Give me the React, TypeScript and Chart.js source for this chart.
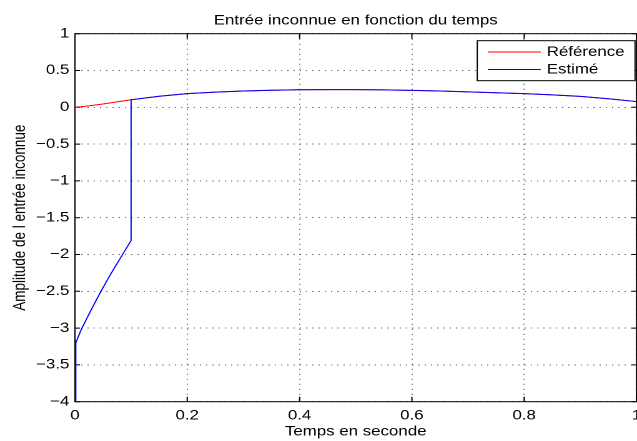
import React, { useEffect, useRef } from 'react';
import { Chart, registerables } from 'chart.js';

Chart.register(...registerables);

// ---- text ----
const titleText = 'Entrée inconnue en fonction du temps';
const xTitle = 'Temps en seconde';
const yTitle = 'Amplitude de l entrée inconnue';
const seriesNames = ['Référence', 'Estimé'];
const seriesColors = ['#ff0000', '#0000ff'];

// ---- data ----
const refTimes = [0, 0.025, 0.05, 0.075, 0.1, 0.15, 0.2, 0.25, 0.3, 0.35, 0.4, 0.45, 0.5, 0.55, 0.6, 0.65, 0.7, 0.75, 0.8, 0.85, 0.9, 0.95, 1.0];
const refValues = [0, 0.02, 0.045, 0.073, 0.102, 0.15, 0.185, 0.207, 0.222, 0.232, 0.238, 0.24, 0.24, 0.237, 0.23, 0.221, 0.21, 0.198, 0.185, 0.168, 0.148, 0.116, 0.078];

const estTimes = [0.0015, 0.0015, 0.01, 0.02, 0.03, 0.04, 0.05, 0.06, 0.07, 0.08, 0.09, 0.1, 0.1, 0.15, 0.2, 0.25, 0.3, 0.35, 0.4, 0.45, 0.5, 0.55, 0.6, 0.65, 0.7, 0.75, 0.8, 0.85, 0.9, 0.95, 1.0];
const estValues = [-8, -3.2, -3.04, -2.885, -2.735, -2.59, -2.45, -2.315, -2.185, -2.06, -1.935, -1.81, 0.102, 0.15, 0.185, 0.207, 0.222, 0.232, 0.238, 0.24, 0.24, 0.237, 0.23, 0.221, 0.21, 0.198, 0.185, 0.168, 0.148, 0.116, 0.078];

const xMin = 0;
const xMax = 1;
const xStep = 0.2;
const yMin = -4;
const yMax = 1;
const yStep = 0.5;

const FONT = '"Liberation Sans", Arial, Helvetica, sans-serif';
const FS = 13.5;

const fmt = (v: number) => String(Math.round(v * 10) / 10).replace('-', '\u2212');

const boxPlugin = {
  id: 'matlabBox',
  beforeDatasetsDraw(chart: any) {
    const { ctx, chartArea: a, scales } = chart;
    ctx.save();
    ctx.strokeStyle = '#000';
    ctx.lineWidth = 1;
    ctx.strokeRect(a.left, a.top, a.right - a.left, a.bottom - a.top);
    ctx.beginPath();
    scales.x.ticks.forEach((t: any) => {
      const px = scales.x.getPixelForValue(t.value);
      ctx.moveTo(px, a.bottom);
      ctx.lineTo(px, a.bottom - 5);
      ctx.moveTo(px, a.top);
      ctx.lineTo(px, a.top + 5);
    });
    scales.y.ticks.forEach((t: any) => {
      const py = scales.y.getPixelForValue(t.value);
      ctx.moveTo(a.left, py);
      ctx.lineTo(a.left + 4, py);
      ctx.moveTo(a.right, py);
      ctx.lineTo(a.right - 4, py);
    });
    ctx.stroke();
    ctx.restore();
  },
};

const legendPlugin = {
  id: 'matlabLegend',
  afterDraw(chart: any) {
    const { ctx } = chart;
    const left = 382.1;
    const top = 40.7;
    const right = 508.4;
    const bottom = 80.7;
    ctx.save();
    ctx.fillStyle = '#fff';
    ctx.fillRect(left, top, right - left, bottom - top);
    ctx.strokeStyle = '#000';
    ctx.lineWidth = 1;
    ctx.strokeRect(left, top, right - left, bottom - top);
    const rows = [52, 69.5];
    ctx.font = `${FS}px ${FONT}`;
    ctx.textBaseline = 'middle';
    ctx.textAlign = 'left';
    chart.data.datasets.forEach((ds: any, i: number) => {
      const y = rows[i];
      ctx.strokeStyle = ds.borderColor;
      ctx.beginPath();
      ctx.moveTo(390.5, y);
      ctx.lineTo(432.9, y);
      ctx.stroke();
      ctx.fillStyle = '#000';
      ctx.fillText(ds.label, 437.7, y + 0.5);
    });
    ctx.restore();
  },
};

export default function App() {
  const canvasRef = useRef<HTMLCanvasElement | null>(null);

  useEffect(() => {
    const canvas = canvasRef.current;
    if (!canvas) return;
    const refData = refTimes.map((t, i) => ({ x: t, y: refValues[i] }));
    const estData = estTimes.map((t, i) => ({ x: t, y: estValues[i] }));
    const chart = new Chart(canvas, {
      type: 'line',
      data: {
        datasets: [
          {
            label: seriesNames[0],
            data: refData,
            borderColor: seriesColors[0],
            backgroundColor: seriesColors[0],
            borderWidth: 1,
            pointRadius: 0,
            tension: 0,
            order: 2,
          },
          {
            label: seriesNames[1],
            data: estData,
            borderColor: seriesColors[1],
            backgroundColor: seriesColors[1],
            borderWidth: 1,
            pointRadius: 0,
            tension: 0,
            order: 1,
          },
        ],
      },
      options: {
        animation: false,
        responsive: false,
        maintainAspectRatio: false,
        devicePixelRatio: 2,
        layout: { padding: { left: 0, right: 0.4, top: 0, bottom: 0 } },
        plugins: {
          legend: { display: false },
          tooltip: { enabled: false },
          title: {
            display: true,
            text: titleText,
            color: '#000',
            fullSize: false,
            font: { family: FONT, size: FS, weight: 'normal', lineHeight: 1.2 },
            padding: { top: 12.5, bottom: 5 },
          },
        },
        scales: {
          x: {
            type: 'linear',
            min: xMin,
            max: xMax,
            afterFit: (s: any) => {
              s.height = 39.3;
              s.paddingLeft = 0;
              s.paddingRight = 0;
            },
            ticks: {
              stepSize: xStep,
              color: '#000',
              padding: 6,
              maxRotation: 0,
              autoSkip: false,
              font: { family: FONT, size: FS, lineHeight: 1.2 },
              callback: (v: any) => fmt(Number(v)),
            },
            grid: { color: 'rgba(0,0,0,0.6)', lineWidth: 1, drawTicks: false },
            border: { display: false, dash: [1, 4] },
            title: {
              display: true,
              text: xTitle,
              color: '#000',
              font: { family: FONT, size: FS, lineHeight: 1.2 },
              padding: { top: 0, bottom: 1.3 },
            },
          },
          y: {
            type: 'linear',
            min: yMin,
            max: yMax,
            afterFit: (s: any) => {
              s.width = 60;
            },
            ticks: {
              stepSize: yStep,
              color: '#000',
              padding: 4.5,
              autoSkip: false,
              font: { family: FONT, size: FS, lineHeight: 1.2 },
              callback: (v: any) => fmt(Number(v)),
            },
            grid: { color: 'rgba(0,0,0,0.6)', lineWidth: 1, drawTicks: false },
            border: { display: false, dash: [1, 4] },
            title: {
              display: true,
              text: yTitle,
              color: '#000',
              font: { family: FONT, size: FS, lineHeight: 1.2 },
              padding: { top: 8.4, bottom: 0 },
            },
          },
        },
      } as any,
      plugins: [boxPlugin, legendPlugin],
    });
    return () => {
      chart.destroy();
    };
  }, []);

  return (
    <div style={{ position: 'fixed', left: 0, top: 0, width: 637, height: 441, background: '#fff', overflow: 'hidden' }}>
      <canvas
        ref={canvasRef}
        width={510}
        height={441}
        style={{ width: '637px', height: '441px', display: 'block' }}
      />
    </div>
  );
}
